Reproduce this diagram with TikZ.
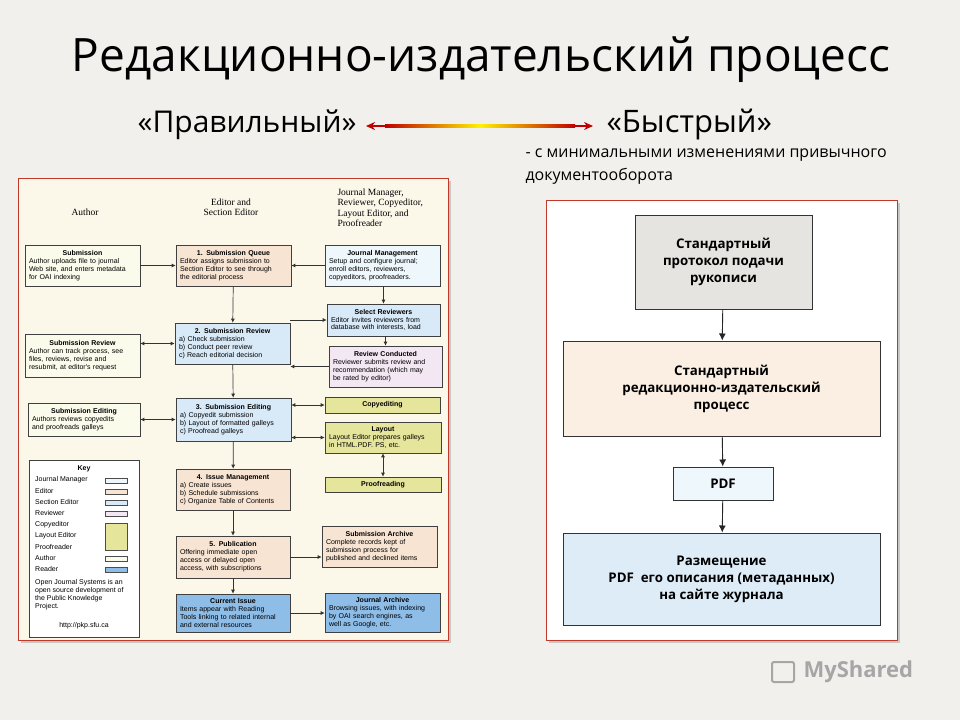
\documentclass[tikz,border=0pt]{standalone}
\usepackage{fontspec}
\setmainfont{Open Sans}
\newfontfamily\arialf{Liberation Sans}
\newfontfamily\serff{Liberation Serif}
\usetikzlibrary{arrows.meta,shadows,calc}
\definecolor{bg}{HTML}{F1F0EC}
\definecolor{frame}{HTML}{C0392B}
\definecolor{cream}{HTML}{FBF8EA}
\definecolor{peach}{HTML}{F8E4D2}
\definecolor{lblue}{HTML}{D8E9F7}
\definecolor{jm}{HTML}{EEF7FB}
\definecolor{lav}{HTML}{F3E7F3}
\definecolor{yel}{HTML}{E6E59C}
\definecolor{rblue}{HTML}{8EBDE8}
\definecolor{auth}{HTML}{FBFBEC}
\tikzset{
 lbox/.style={draw=black!75,line width=0.6pt,inner sep=1pt,inner xsep=4pt,font=\arialf\fontsize{7}{7.9}\selectfont,align=left},
 arr/.style={-{Latex[length=4pt,width=4pt]},line width=0.7pt,black!80},
 darr/.style={{Latex[length=4pt,width=4pt]}-{Latex[length=4pt,width=4pt]},line width=0.7pt,black!80},
 rbox/.style={draw=black!80,line width=1pt,font=\bfseries\fontsize{13.3}{17}\selectfont,align=center},
 rarr/.style={-{Latex[length=7pt,width=7pt]},line width=0.9pt,black!85},
 hdr/.style={font=\serff\fontsize{9.5}{10.5}\selectfont,align=center},
}
\newcommand{\bt}[2]{\makebox[\linewidth][c]{\textbf{#1}}\\#2}
\begin{document}
\begin{tikzpicture}[x=1pt,y=-1pt]
\fill[bg] (0,0) rectangle (960,720);
\useasboundingbox (0,0) rectangle (960,720);
\node[font=\fontsize{46}{52}\selectfont] (title) at (481,60) {Редакционно-издательский процесс};
\node[font=\fontsize{30}{34}\selectfont,anchor=east] (prav) at (360,125) {«Правильный»};
\node[font=\fontsize{31}{34}\selectfont,anchor=west] (byst) at (603,125) {«Быстрый»};
\draw[{Stealth[length=9pt,width=8pt]}-{Stealth[length=9pt,width=8pt]},line width=2.2pt,red!75!black] ($(prav.east)+(6,1)$) -- ($(byst.west)+(-10,1)$);
\shade[left color=red!75!black,right color=red!75!black,middle color=yellow!90!orange] (385,124.8) rectangle (575,127.2);
\node[font=\fontsize{16}{23}\selectfont,anchor=north west,align=left] (sub) at (522,145) {- с минимальными изменениями привычного\\документооборота};

% left panel
\node[draw=frame,line width=0.8pt,fill=cream,minimum width=430pt,minimum height=462pt,drop shadow={opacity=0.35,shadow xshift=3pt,shadow yshift=-3pt}] (lp) at (233,409) {};
\node[hdr] (hA) at (85,212) {Author};
\node[hdr] (hE) at (231,207) {Editor and\\Section Editor};
\node[hdr,align=left,anchor=north west] (hJ) at (334,185) {Journal Manager,\\Reviewer, Copyeditor,\\Layout Editor, and\\Proofreader};

\node[lbox,fill=auth,text width=107pt,minimum height=41pt] (sub1) at (82.5,265.5) {\bt{Submission}{Author uploads file to journal\\Web site, and enters metadata\\for OAI indexing}};
\node[lbox,fill=peach,text width=107pt,minimum height=41pt] (q) at (233.5,265.5) {\bt{1. Submission Queue}{Editor assigns submission to\\Section Editor to see through\\the editorial process}};
\node[lbox,fill=jm,text width=107pt,minimum height=41pt] (jmb) at (382.5,265.5) {\bt{Journal Management}{Setup and configure journal;\\enroll editors, reviewers,\\copyeditors, proofreaders.}};
\node[lbox,fill=lblue,text width=105pt,minimum height=32pt] (sel) at (383.5,320) {\bt{Select Reviewers}{Editor invites reviewers from\\database with interests, load}};
\node[lbox,fill=lav,text width=105pt,minimum height=41pt] (rc) at (385.5,366.5) {\bt{Review Conducted}{Reviewer submits review and\\recommendation (which may\\be rated by editor)}};
\node[lbox,fill=lblue,text width=107pt,minimum height=41pt] (sr) at (232.5,343.5) {\bt{2. Submission Review}{a) Check submission\\b) Conduct peer review\\c) Reach editorial decision}};
\node[lbox,fill=auth,text width=107pt,minimum height=43pt] (asr) at (82.5,355.5) {\bt{Submission Review}{Author can track process, see\\files, reviews, revise and\\resubmit, at editor's request}};
\node[lbox,fill=auth,text width=104pt,minimum height=33pt] (ase) at (84,419.5) {\bt{Submission Editing}{Authors reviews copyedits\\and proofreads galleys}};
\node[lbox,fill=lblue,text width=107pt,minimum height=43pt] (se) at (233.5,419.5) {\bt{3. Submission Editing}{a) Copyedit submission\\b) Layout of formatted galleys\\c) Proofread galleys}};
\node[lbox,fill=yel,text width=107pt,minimum height=16pt,font=\arialf\bfseries\fontsize{7}{7.9}\selectfont,align=center] (ce) at (382.5,405) {Copyediting};
\node[lbox,fill=yel,text width=108pt,minimum height=31pt] (lay) at (383,437.5) {\bt{Layout}{Layout Editor prepares galleys\\in HTML.PDF. PS, etc.}};
\node[lbox,fill=yel,text width=108pt,minimum height=15pt,font=\arialf\bfseries\fontsize{7}{7.9}\selectfont,align=center] (pr) at (383,484.5) {Proofreading};
\node[lbox,fill=peach,text width=106pt,minimum height=41pt] (im) at (233,489.5) {\bt{4. Issue Management}{a) Create issues\\b) Schedule submissions\\c) Organize Table of Contents}};
\node[lbox,fill=peach,text width=106pt,minimum height=42pt] (pub) at (233,557) {\bt{5. Publication}{Offering immediate open\\access or delayed open\\access, with subscriptions}};
\node[lbox,fill=peach,text width=107pt,minimum height=41pt] (sa) at (379.5,546.5) {\bt{Submission Archive}{Complete records kept of\\submission process for\\published and declined items}};
\node[lbox,fill=rblue,text width=106pt,minimum height=38pt] (ci) at (233,613) {\bt{Current Issue}{Items appear with Reading\\Tools linking to related internal\\and external resources}};
\node[lbox,fill=rblue,text width=107pt,minimum height=39pt] (ja) at (382.5,612.5) {\bt{Journal Archive}{Browsing issues, with indexing\\by OAI search engines, as\\well as Google, etc.}};

\draw[arr] (sub1) -- (q);
\draw[arr] (jmb) -- (q);
\draw[arr] (q) -- (sr);
\draw[arr] (jmb.south -| sel) -- (sel);
\draw[arr] (sr.east |- sel) -- (sel.west);
\draw[arr] (sel.south -| rc) -- (rc);
\draw[arr] (rc.west) -- (sr.east |- rc.west);
\draw[darr] (asr.east |- sr) -- (sr.west);
\draw[arr] (sr) -- (se);
\draw[darr] (se.east |- ce) -- (ce.west);
\draw[darr] (se.east |- lay) -- (lay.west);
\draw[darr] (ase) -- (se.west |- ase);
\draw[darr] (lay) -- (pr);
\draw[arr] (se) -- (im);
\draw[arr] (im) -- (pub);
\draw[arr] (pub) -- (sa.west |- pub);
\draw[arr] (pub) -- (ci);
\draw[arr] (ci) -- (ja.west |- ci);

% key
\node[draw=black!75,fill=white,line width=0.6pt,minimum width=110pt,minimum height=177pt] (key) at (84,548.5) {};
\begin{scope}[font=\arialf\fontsize{7}{8.2}\selectfont]
\node[font=\arialf\bfseries\fontsize{7}{7.9}\selectfont] (kt) at (84,469) {Key};
\foreach \t/\yy in {Journal Manager/480,Editor/491,Section Editor/502,Reviewer/513,Copyeditor/525,Layout Editor/536,Proofreader/547,Author/558,Reader/569}
  \node[anchor=west,inner sep=0] at (35,\yy) {\t};
\draw[black!70,fill=jm] (105,478) rectangle (127,483);
\draw[black!70,fill=peach] (105,489) rectangle (127,494);
\draw[black!70,fill=lblue] (105,500) rectangle (127,505);
\draw[black!70,fill=lav] (105,511) rectangle (127,516);
\draw[black!70,fill=yel] (105,523) rectangle (127,550);
\draw[black!70,fill=auth] (105,556) rectangle (127,561);
\draw[black!70,fill=rblue] (105,567) rectangle (127,572);
\node[anchor=north west,align=left,inner sep=0] (kp) at (35,579) {Open Journal Systems is an\\open source development of\\the Public Knowledge\\Project.};
\node (ku) at (84,626) {http://pkp.sfu.ca};
\end{scope}

% right panel
\node[draw=frame,line width=0.8pt,fill=white,minimum width=351pt,minimum height=440pt,drop shadow={opacity=0.35,shadow xshift=3pt,shadow yshift=-3pt}] (rp) at (721.5,420) {};
\node[rbox,fill=black!5!bg,minimum width=177pt,minimum height=94pt] (b1) at (723.5,262) {Стандартный\\протокол подачи\\рукописи};
\node[rbox,fill=peach!60,minimum width=317pt,minimum height=95pt] (b2) at (721.5,388.5) {Стандартный\\редакционно-издательский\\процесс};
\node[rbox,fill=jm,minimum width=100pt,minimum height=33pt] (b3) at (723,483.5) {PDF};
\node[rbox,fill=lblue!85,minimum width=317pt,minimum height=92pt] (b4) at (721.5,579) {Размещение\\PDF\ \ его описания (метаданных)\\на сайте журнала};
\draw[rarr] (b1) -- (b2);
\draw[rarr] (b2) -- (b3);
\draw[rarr] (b3) -- (b4);

\node[font=\bfseries\fontsize{22}{26}\selectfont,text=black!35,anchor=west] (logo) at (800,672) {MyShared};
\draw[black!35,line width=2pt,rounded corners=2pt] (772,662) rectangle (794,682);
\end{tikzpicture}
\end{document}
